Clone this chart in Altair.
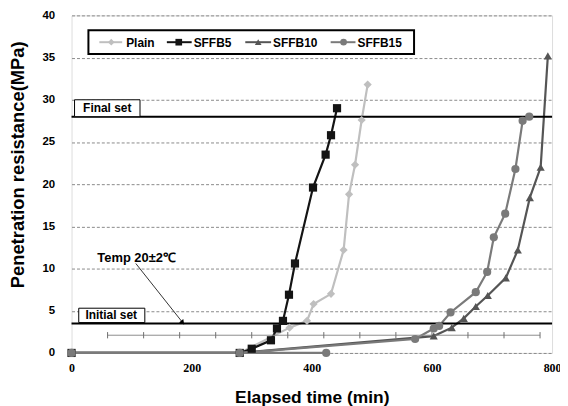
import altair as alt
import pandas as pd

# ---------------- data ----------------
series_names = ["Plain", "SFFB5", "SFFB10", "SFFB15"]
series_colors = ["#bfbfbf", "#141414", "#555555", "#7a7a7a"]
series_shapes = ["diamond", "square", "triangle-up", "circle"]

plain_t = [0, 280, 363, 392, 403, 432, 453, 462, 472, 483, 493]
plain_p = [0, 0, 3.0, 3.8, 5.8, 7.0, 12.2, 18.8, 22.3, 27.6, 31.8]

sffb5_t = [0, 280, 300, 332, 342, 352, 362, 372, 402, 423, 432, 442]
sffb5_p = [0, 0, 0.5, 1.5, 2.9, 3.8, 6.9, 10.6, 19.6, 23.5, 25.8, 29.0]

sffb10_t = [0, 280, 603, 633, 653, 673, 693, 723, 743, 763, 781, 793]
sffb10_p = [0, 0, 2.0, 3.0, 4.1, 5.5, 6.8, 8.9, 12.2, 18.4, 22.0, 35.2]

sffb15_t = [0, 424, 280, 572, 603, 612, 631, 673, 692, 703, 722, 739, 751, 762]
sffb15_p = [0, 0, 0, 1.65, 2.9, 3.2, 4.8, 7.2, 9.6, 13.7, 16.5, 21.8, 27.5, 28.0]

temp_t = [60, 120, 180, 240, 300, 360, 420, 480, 540, 600, 660, 720, 780]
temp_p = [2.1, 2.1, 2.1, 2.1, 2.1, 2.1, 2.1, 2.1, 2.1, 2.1, 2.1, 2.1, 2.1]

x_ticks = [0, 200, 400, 600, 800]
y_ticks = [0, 5, 10, 15, 20, 25, 30, 35, 40]

set_labels = ["Final set", "Initial set"]
set_levels = [28, 3.5]
set_box_x1 = [5, 12]
set_box_x2 = [114, 122]
set_box_y1 = [28, 3.6]
set_box_y2 = [30, 5.3]
set_text_x = [59.5, 66]
set_text_y = [29, 4.45]

temp_label = "Temp 20±2℃"
temp_label_x = [43]
temp_label_y = [11.3]
arrow_x1 = [107]
arrow_y1 = [10.6]
arrow_x2 = [185]
arrow_y2 = [3.6]

# legend layout (pixels inside the plot area)
leg_line_x1 = [28, 96, 175, 261]
leg_line_x2 = [51, 121, 201, 286]
leg_mark_x = [40, 108, 188, 274]
leg_text_x = [55, 123, 203, 288]

# ---------------- build tables ----------------
rows = []
for name, ts, ps in zip(series_names,
                        [plain_t, sffb5_t, sffb10_t, sffb15_t],
                        [plain_p, sffb5_p, sffb10_p, sffb15_p]):
    for i, (t, p) in enumerate(zip(ts, ps)):
        rows.append({"series": name, "t": t, "p": p, "idx": i})
df = pd.DataFrame(rows)
df_temp = pd.DataFrame({"t": temp_t, "p": temp_p})
df_sets = pd.DataFrame({"label": set_labels, "level": set_levels,
                        "bx1": set_box_x1, "bx2": set_box_x2,
                        "by1": set_box_y1, "by2": set_box_y2,
                        "tx": set_text_x, "ty": set_text_y})
df_arrow = pd.DataFrame({"x1": arrow_x1, "y1": arrow_y1, "x2": arrow_x2, "y2": arrow_y2})
df_tlabel = pd.DataFrame({"x": temp_label_x, "y": temp_label_y, "label": [temp_label]})
df_leg = pd.DataFrame({"series": series_names, "lx1": leg_line_x1, "lx2": leg_line_x2,
                       "mx": leg_mark_x, "tx": leg_text_x})

xs = alt.Scale(domain=[0, 800], nice=False)
ys = alt.Scale(domain=[0, 40], nice=False)
color = alt.Color("series:N", scale=alt.Scale(domain=series_names, range=series_colors), legend=None)
shape = alt.Shape("series:N", scale=alt.Scale(domain=series_names, range=series_shapes), legend=None)

x_axis = alt.Axis(values=x_ticks, labelFont="Liberation Serif", labelFontWeight="bold",
                  labelFontSize=12, labelColor="#000", labelPadding=10, labelFlush=False,
                  ticks=False, domain=False, grid=False,
                  title="Elapsed time (min)", titleFont="Liberation Sans", titleFontSize=17.5,
                  titleFontWeight="bold", titleColor="#000", titleY=50, titleBaseline="alphabetic")
y_axis = alt.Axis(values=y_ticks, labelFont="Liberation Sans", labelFontWeight="bold",
                  labelFontSize=11.5, labelColor="#000", labelPadding=17,
                  ticks=False, domain=False, grid=True, gridDash=[3, 2],
                  gridColor="#8a8a8a", gridWidth=1,
                  title="Penetration resistance(MPa)", titleFont="Liberation Sans",
                  titleFontSize=18.5, titleFontWeight="bold", titleColor="#000",
                  titleX=-54, titleY=150, titleBaseline="middle", titleAngle=-90)

X = alt.X("t:Q", scale=xs, axis=x_axis)
Y = alt.Y("p:Q", scale=ys, axis=y_axis)

set_lines = alt.Chart(df_sets).mark_rule(color="#000", strokeWidth=2).encode(
    y=alt.Y("level:Q", scale=ys), x=alt.value(0), x2=alt.value(484))

temp_line = alt.Chart(df_temp).mark_line(color="#8c8c8c", strokeWidth=1).encode(
    x=alt.X("t:Q", scale=xs), y=alt.Y("p:Q", scale=ys))
temp_ticks = alt.Chart(df_temp).mark_point(shape="M0,-1L0,1", filled=False, color="#6e6e6e",
                                           strokeWidth=1, size=40, opacity=1).encode(
    x=alt.X("t:Q", scale=xs), y=alt.Y("p:Q", scale=ys))

lines = alt.Chart(df).mark_line(strokeWidth=2.2).encode(
    x=X, y=Y, color=color, detail="series:N", order="idx:Q")
points = alt.Chart(df).mark_point(filled=True, opacity=1, size=68).encode(
    x=alt.X("t:Q", scale=xs), y=alt.Y("p:Q", scale=ys), color=color, shape=shape)

boxes = alt.Chart(df_sets).mark_rect(fill="white", stroke="#000", strokeWidth=1).encode(
    x=alt.X("bx1:Q", scale=xs), x2="bx2:Q", y=alt.Y("by1:Q", scale=ys), y2="by2:Q")
box_text = alt.Chart(df_sets).mark_text(font="Liberation Sans", fontWeight="bold", fontSize=12,
                                        color="#000", align="center", baseline="middle").encode(
    x=alt.X("tx:Q", scale=xs), y=alt.Y("ty:Q", scale=ys), text="label:N")

arrow_line = alt.Chart(df_arrow).mark_rule(color="#333", strokeWidth=1).encode(
    x=alt.X("x1:Q", scale=xs), y=alt.Y("y1:Q", scale=ys), x2="x2:Q", y2="y2:Q")
arrow_head = alt.Chart(df_arrow).mark_point(shape="triangle-up", filled=True, color="#000",
                                            size=30, angle=141, opacity=1).encode(
    x=alt.X("x2:Q", scale=xs), y=alt.Y("y2:Q", scale=ys))
temp_text = alt.Chart(df_tlabel).mark_text(font="Liberation Sans", fontWeight="bold", fontSize=13,
                                           color="#000", align="left", baseline="middle").encode(
    x=alt.X("x:Q", scale=xs), y=alt.Y("y:Q", scale=ys), text="label:N")

# legend drawn in pixel space
leg_box = alt.Chart(pd.DataFrame({"a": [0]})).mark_rect(fill="white", stroke="#000", strokeWidth=2).encode(
    x=alt.value(17), x2=alt.value(345), y=alt.value(15), y2=alt.value(39))
leg_lines = alt.Chart(df_leg).mark_rule(strokeWidth=2).encode(
    x=alt.X("lx1:Q", scale=None), x2="lx2:Q", y=alt.value(27), color=color)
leg_marks = alt.Chart(df_leg).mark_point(filled=True, opacity=1, size=45).encode(
    x=alt.X("mx:Q", scale=None), y=alt.value(27), color=color, shape=shape)
leg_text = alt.Chart(df_leg).mark_text(font="Liberation Sans", fontWeight="bold", fontSize=12,
                                       color="#000", align="left", baseline="middle").encode(
    x=alt.X("tx:Q", scale=None), y=alt.value(27.5), text="series:N")

chart = alt.layer(
    lines, set_lines, temp_line, temp_ticks, points, boxes, box_text,
    arrow_line, arrow_head, temp_text, leg_box, leg_lines, leg_marks, leg_text
).properties(
    width=484, height=340,
    autosize=alt.AutoSizeParams(type="none"),
    padding={"left": 64, "top": 6, "right": 8, "bottom": 52},
    background="white",
).configure_view(stroke="#000", strokeWidth=3
).configure(font="Liberation Sans")

chart.save("out.html", embed_options={"renderer": "svg", "actions": False})
